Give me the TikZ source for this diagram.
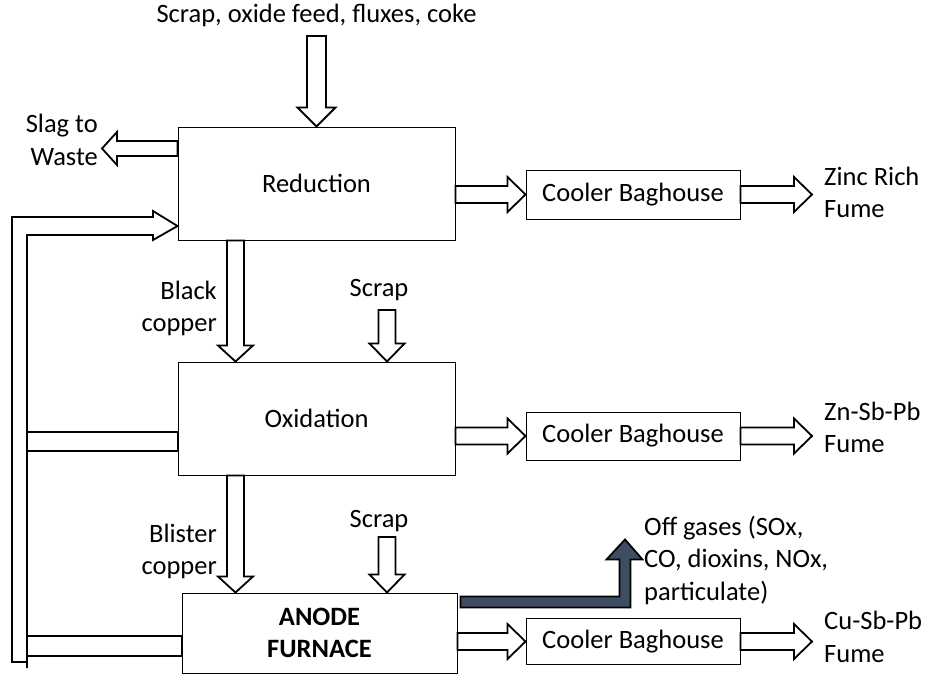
\documentclass[tikz,border=0pt]{standalone}
\usepackage{fontspec}
\setmainfont{Carlito}
\usetikzlibrary{calc}
\definecolor{gasblue}{HTML}{3F4D63}

\tikzset{
  unit/.style={draw, line width=1pt, inner sep=0pt, align=center},
  lbl/.style={inner sep=0pt},
  fatarrow/.style args={#1/#2/#3}{draw, line width=1.8pt, fill=white,
    to path={let \p1=($(\tikztotarget)!#3!(\tikztostart)$) in
      ($(\tikztostart)!#1!90:(\tikztotarget)$) -- ($(\p1)!#1!90:(\tikztotarget)$)
      -- ($(\p1)!#2!90:(\tikztotarget)$) -- (\tikztotarget)
      -- ($(\p1)!#2!-90:(\tikztotarget)$) -- ($(\p1)!#1!-90:(\tikztotarget)$)
      -- ($(\tikztostart)!#1!-90:(\tikztotarget)$) -- cycle}},
  fat/.style={fatarrow=8.5pt/17.5pt/18pt},
  recycle/.style={line width=1.8pt}
}

\begin{document}
\begin{tikzpicture}[x=1pt, y=-1pt, font=\fontsize{26.5}{32.5}\selectfont]
	\useasboundingbox (0,0) rectangle (933,681);

	\node[unit, minimum width=277pt, minimum height=113pt] (red) at (316.5,183.5) {Reduction};
	\node[unit, minimum width=277pt, minimum height=113pt] (oxi) at (316.5,418.5) {Oxidation};
	\node[unit, minimum width=275pt, minimum height=80pt] (anode) at (319.5,633) {\textbf{ANODE}\\\textbf{FURNACE}};
	\node[unit, minimum width=214pt, minimum height=49pt] (cool1) at (633,194.5) {Cooler Baghouse};
	\node[unit, minimum width=214pt, minimum height=48pt] (cool2) at (633,436) {Cooler Baghouse};
	\node[unit, minimum width=214pt, minimum height=46pt] (cool3) at (633,641.5) {Cooler Baghouse};

	\node[lbl] (feed) at (316.5,15) {Scrap, oxide feed, fluxes, coke};
	\node[lbl, anchor=east, align=right] (slag) at (98,140) {Slag to\\Waste};
	\node[lbl, anchor=west, align=left] (zinc) at (824,192.5) {Zinc Rich\\Fume};
	\node[lbl, anchor=west, align=left] (znsbpb) at (824,427.5) {Zn-Sb-Pb\\Fume};
	\node[lbl, anchor=west, align=left] (cusbpb) at (824,637) {Cu-Sb-Pb\\Fume};
	\node[lbl, anchor=west, align=left] (offgas) at (644,560) {Off gases (SOx,\\CO, dioxins, NOx,\\particulate)};
	\node[lbl, anchor=east, align=right] (black) at (217,308.5) {Black\\copper};
	\node[lbl, anchor=east, align=right] (blister) at (217,551.5) {Blister\\copper};
	\node[lbl] (scrap1) at (379,290) {Scrap};
	\node[lbl] (scrap2) at (379,521) {Scrap};

	\coordinate (feedend) at (316.5,36);
	\coordinate (slagout) at ([yshift=35pt]red.west);
	\coordinate (slagtip) at (102,148.5);
	\coordinate (redout) at ([yshift=-11pt]red.east);
	\coordinate (zinctip) at (812,194.5);
	\coordinate (bcout) at ([xshift=-81pt]red.south);
	\coordinate (bcin) at ([xshift=-81pt]oxi.north);
	\coordinate (scrapend1) at (387,310);
	\coordinate (scrapin1) at ([xshift=70.5pt]oxi.north);
	\coordinate (oxiout) at ([yshift=-17.5pt]oxi.east);
	\coordinate (znsbpbtip) at (812,436);
	\coordinate (blout) at ([xshift=-81pt]oxi.south);
	\coordinate (blin) at ([xshift=-84pt]anode.north);
	\coordinate (scrapend2) at (387,537);
	\coordinate (scrapin2) at ([xshift=67.5pt]anode.north);
	\coordinate (anodeout) at ([yshift=-8.5pt]anode.east);
	\coordinate (cusbpbtip) at (812,641.5);

	\draw[fatarrow=9.5pt/19pt/19pt] (feedend) to (red.north);
	\draw[fatarrow=7.5pt/16.5pt/15pt] (slagout) to (slagtip);
	\draw[fat] (redout) to (cool1.west);
	\draw[fat] (cool1.east) to (zinctip);
	\draw[fatarrow=8.5pt/17.5pt/16pt] (bcout) to (bcin);
	\draw[fat] (scrapend1) to (scrapin1);
	\draw[fat] (oxiout) to (cool2.west);
	\draw[fat] (cool2.east) to (znsbpbtip);
	\draw[fatarrow=8.5pt/17.5pt/16pt] (blout) to (blin);
	\draw[fat] (scrapend2) to (scrapin2);
	\draw[fat] (anodeout) to (cool3.west);
	\draw[fat] (cool3.east) to (cusbpbtip);

	% off gas stream
	\draw[fill=gasblue, line width=1.8pt] ([xshift=3pt,yshift=-4pt]anode.north east) -- ++(159,0) -- ++(0,-37)
		-- ++(-13,0) -- ++(18.5,-20) -- ++(17.5,20) -- ++(-12,0) -- ++(0,48) -- ++(-170,0) -- cycle;

	% recycle loop
	\draw[recycle] (27,668) -- (27,235) -- (153,235) -- (153,240) -- (red.west |- 0,226) -- (153,211)
		-- (153,217) -- (12,217) -- (12,662) -- (27,662);
	\draw[recycle] (27,432) rectangle (oxi.west |- 0,451);
	\draw[recycle] (27,636) rectangle (anode.west |- 0,656);
\end{tikzpicture}
\end{document}
